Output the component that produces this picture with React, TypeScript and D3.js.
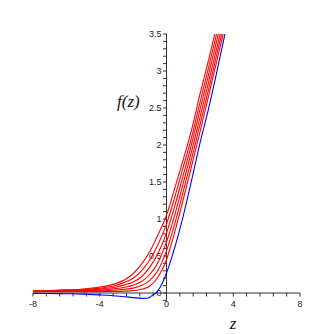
import React, { useEffect, useRef } from "react";
import * as d3 from "d3";

// z grid shared by the red curves
const redZ = [-8, -7, -6, -5, -4, -3.5, -3, -2.5, -2, -1.5, -1, -0.5, 0, 0.5, 1, 1.5, 2, 2.5, 3, 3.5];

// red family, top (leftmost) curve first
const red0 = [0.03, 0.034, 0.042, 0.055, 0.08, 0.1, 0.13, 0.18, 0.26, 0.39, 0.56, 0.79, 1.05, 1.42, 1.8, 2.2, 2.68, 3.13, 3.6, 4.05];
const red1 = [0.027, 0.03, 0.037, 0.048, 0.066, 0.08, 0.105, 0.145, 0.2, 0.3, 0.45, 0.66, 0.93, 1.3, 1.7, 2.1, 2.57, 3.03, 3.5, 3.96];
const red2 = [0.024, 0.027, 0.032, 0.04, 0.053, 0.064, 0.082, 0.11, 0.15, 0.22, 0.35, 0.54, 0.81, 1.18, 1.59, 2.01, 2.47, 2.93, 3.4, 3.85];
const red3 = [0.021, 0.023, 0.027, 0.033, 0.041, 0.048, 0.06, 0.078, 0.105, 0.155, 0.25, 0.42, 0.69, 1.06, 1.48, 1.91, 2.37, 2.83, 3.3, 3.77];
const red4 = [0.019, 0.02, 0.022, 0.025, 0.029, 0.033, 0.04, 0.05, 0.066, 0.1, 0.17, 0.31, 0.57, 0.94, 1.37, 1.81, 2.27, 2.73, 3.21, 3.68];
const red5 = [0.017, 0.017, 0.017, 0.018, 0.019, 0.02, 0.022, 0.025, 0.032, 0.05, 0.095, 0.22, 0.45, 0.83, 1.26, 1.71, 2.17, 2.64, 3.12, 3.6];
const redSeries = [red0, red1, red2, red3, red4, red5];

// blue curve (dips below zero)
const blueZ = [-8, -7, -6, -5, -4, -3.5, -3, -2.5, -2, -1.5, -1.2, -1, -0.8, -0.6, -0.4, -0.2, 0, 0.5, 1, 1.5, 2, 2.5, 3, 3.5];
const blueF = [-0.005, -0.007, -0.01, -0.015, -0.025, -0.03, -0.04, -0.05, -0.062, -0.072, -0.07, -0.056, -0.025, 0.01, 0.07, 0.16, 0.27, 0.62, 1.04, 1.52, 2.02, 2.47, 2.97, 3.5];

const xLabels = [-8, -4, 0, 4, 8];
const yLabels = [0, 0.5, 1, 1.5, 2, 2.5, 3, 3.5];

const App = () => {
  const svgRef = useRef<SVGSVGElement>(null);

  useEffect(() => {
    const width = 334;
    const height = 334;
    const svg = d3.select(svgRef.current);
    svg.selectAll("*").remove();
    svg.attr("width", width).attr("height", height);

    const x = d3.scaleLinear().domain([-8, 8]).range([33, 300]);
    const y = d3.scaleLinear().domain([0, 3.5]).range([293, 34]);

    svg
      .append("defs")
      .append("clipPath")
      .attr("id", "plotclip")
      .append("rect")
      .attr("x", x(-8))
      .attr("y", y(3.5))
      .attr("width", x(8) - x(-8))
      .attr("height", y(-0.2) - y(3.5));

    const axisColor = "#333";
    const sans = "'Liberation Sans', Arial, sans-serif";
    const serif = "'Liberation Serif', 'Times New Roman', serif";

    // x axis
    const xAxis = svg.append("g");
    xAxis
      .append("line")
      .attr("x1", x(-8))
      .attr("x2", x(8))
      .attr("y1", y(0))
      .attr("y2", y(0))
      .attr("stroke", axisColor);
    d3.range(0, 21).forEach((i) => {
      const v = -8 + i * 0.8;
      xAxis
        .append("line")
        .attr("x1", x(v))
        .attr("x2", x(v))
        .attr("y1", y(0))
        .attr("y2", y(0) + 3.5)
        .attr("stroke", axisColor);
    });
    xLabels.forEach((v) => {
      xAxis
        .append("text")
        .attr("x", x(v))
        .attr("y", y(0) + 14)
        .attr("text-anchor", "middle")
        .style("font-family", sans)
        .style("font-size", "9px")
        .attr("fill", "#222")
        .text(v);
    });

    // y axis
    const yAxis = svg.append("g");
    yAxis
      .append("line")
      .attr("x1", x(0))
      .attr("x2", x(0))
      .attr("y1", y(-0.1))
      .attr("y2", y(3.5))
      .attr("stroke", axisColor);
    d3.range(-1, 36).forEach((i) => {
      const v = i / 10;
      yAxis
        .append("line")
        .attr("x1", x(0) - 3.5)
        .attr("x2", x(0))
        .attr("y1", y(v))
        .attr("y2", y(v))
        .attr("stroke", axisColor);
    });
    yLabels.forEach((v) => {
      yAxis
        .append("text")
        .attr("x", x(0) - 5)
        .attr("y", y(v) + 3)
        .attr("text-anchor", "end")
        .style("font-family", sans)
        .style("font-size", "9px")
        .attr("fill", "#222")
        .text(v);
    });

    // curves
    const line = d3
      .line<[number, number]>()
      .x((d) => x(d[0]))
      .y((d) => y(d[1]))
      .curve(d3.curveMonotoneX);

    const plot = svg.append("g").attr("clip-path", "url(#plotclip)");
    redSeries.forEach((s) => {
      plot
        .append("path")
        .attr("d", line(redZ.map((z, i) => [z, s[i]] as [number, number])))
        .attr("fill", "none")
        .attr("stroke", "#ff0000")
        .attr("stroke-width", 1.1);
    });
    plot
      .append("path")
      .attr("d", line(blueZ.map((z, i) => [z, blueF[i]] as [number, number])))
      .attr("fill", "none")
      .attr("stroke", "#0000ff")
      .attr("stroke-width", 1.1);

    // axis titles
    svg
      .append("text")
      .attr("x", 117)
      .attr("y", 107)
      .style("font-family", serif)
      .style("font-style", "italic")
      .style("font-size", "17px")
      .attr("fill", "#111")
      .text("f(z)");
    svg
      .append("text")
      .attr("x", 233)
      .attr("y", 329)
      .attr("text-anchor", "middle")
      .style("font-family", serif)
      .style("font-style", "italic")
      .style("font-size", "17px")
      .attr("fill", "#111")
      .text("z");
  }, []);

  return (
    <div style={{ position: "absolute", left: 0, top: 0, background: "#fff" }}>
      <svg ref={svgRef} style={{ display: "block" }} />
    </div>
  );
};

export default App;
